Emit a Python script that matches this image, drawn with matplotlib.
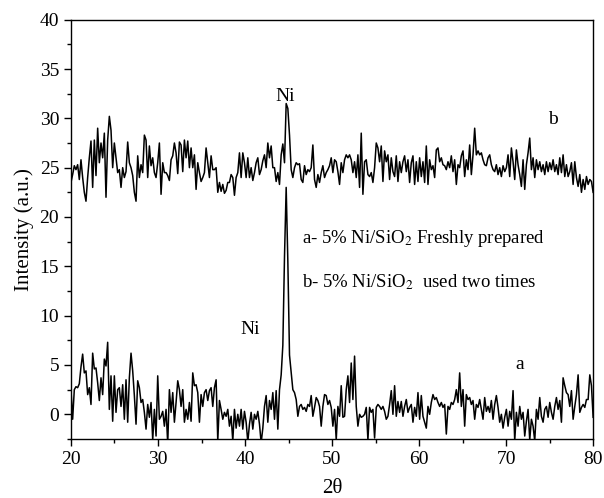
import numpy as np
import matplotlib
matplotlib.use("Agg")
import matplotlib.pyplot as plt
from matplotlib.ticker import MultipleLocator

plt.rcParams['font.family'] = ['Liberation Serif', 'DejaVu Serif']
plt.rcParams['mathtext.fontset'] = 'stix'

# scan of 2-theta, 314 uniform steps between 20 and 80 deg
two_theta = np.linspace(20, 80, 314)

# b - catalyst used two times
b_left = [
    23.5, 24.3, 25.2, 24.8, 25.3, 23.8, 25.8, 24.0, 22.5, 21.6,
    24.0, 26.0, 27.7, 23.0, 27.8, 24.2, 29.0, 25.5, 27.5, 26.0,
    28.5, 22.0, 27.8, 30.2, 28.8, 25.0, 27.5, 26.0, 24.5, 24.8,
    23.0, 25.0, 24.0, 24.6, 27.6, 25.5, 25.0, 24.2, 22.5, 21.6,
    26.2, 24.0, 25.3, 24.5, 28.3, 27.8, 24.0, 27.2, 25.2, 26.0,
    24.5, 24.0, 25.5, 27.5, 22.3, 25.5, 24.5, 24.5, 24.2, 23.7,
    25.8, 26.2, 27.5, 26.5, 24.4, 27.6, 27.3, 24.6, 27.8, 26.0,
    27.7, 25.0, 27.0, 25.0, 26.3, 22.8, 25.5, 24.5, 23.6, 24.0,
    24.5, 27.0, 25.5, 24.0, 26.2, 24.8, 24.8, 25.0, 22.5, 23.5,
    22.6, 23.3, 22.4, 22.7, 23.5, 23.5, 24.3, 24.0, 22.2, 24.0,
    24.5, 26.5, 24.0, 26.5, 25.5, 24.0, 26.0, 24.0, 25.0, 23.7,
    24.5, 25.5, 26.0, 24.3, 24.8, 25.7, 26.3, 25.0, 27.5, 26.0,
    27.2, 25.0, 25.0, 23.6, 24.5, 23.3, 26.3, 27.4, 25.5, 31.5,
    31.0, 28.3, 24.8, 24.0, 25.0, 25.5, 25.3, 25.4, 23.8, 23.5,
    25.2, 24.3, 24.8, 24.6, 25.0, 27.3, 23.8, 23.0, 24.3, 23.5,
    24.5, 25.2, 24.0, 24.5, 24.8, 25.2, 26.0, 24.5, 25.8,
]
b_right = [
    25.6, 24.6, 23.3, 25.5, 24.5, 25.8, 26.3, 26.0, 26.3, 25.8,
    24.5, 25.6, 24.0, 26.3, 23.0, 28.5, 22.3, 25.6, 25.8, 24.3,
    24.1, 24.5, 23.5, 25.0, 27.5, 27.0, 25.6, 27.2, 23.6, 26.7,
    25.6, 26.3, 23.8, 26.0, 24.6, 24.1, 26.2, 23.6, 25.6, 24.5,
    25.6, 26.2, 24.6, 25.8, 23.5, 25.5, 26.2, 23.3, 25.6, 23.6,
    26.0, 24.1, 25.6, 23.5, 27.2, 23.3, 25.8, 24.8, 25.2, 24.0,
    26.8, 27.0, 25.6, 26.0, 25.3, 25.2, 24.8, 25.6, 25.0, 26.2,
    24.6, 25.8, 23.3, 25.3, 25.0, 26.2, 26.7, 24.1, 25.8, 24.8,
    27.3, 24.3, 26.3, 29.0, 26.3, 26.7, 26.3, 26.5, 25.8, 25.3,
    25.2, 26.0, 26.3, 25.3, 24.8, 24.6, 25.3, 24.3, 25.0, 24.1,
    25.2, 24.6, 25.0, 26.3, 24.1, 27.0, 25.6, 23.8, 26.8, 25.3,
    24.3, 23.1, 25.8, 22.8, 25.3, 26.5, 28.0, 24.8, 26.0, 24.0,
    25.8, 24.8, 25.6, 24.6, 25.3, 24.3, 25.6, 24.6, 25.5, 24.8,
    25.8, 24.6, 25.3, 24.3, 26.0, 24.5, 26.3, 24.1, 25.3, 24.1,
    24.6, 25.5, 23.3, 25.6, 24.0, 23.1, 24.3, 22.5, 23.8, 22.8,
    24.1, 23.3, 23.8, 23.6, 22.5,
]

# a - freshly prepared
a_left = [
    2.5, -0.5, 2.5, 2.8, 2.7, 3.1, 4.8, 6.1, 4.2, 4.4,
    2.0, 2.7, 1.0, 6.2, 4.6, 4.7, 3.2, 1.4, 3.7, 2.0,
    5.6, 4.9, 7.3, 0.5, 3.9, -0.7, 3.9, 0.2, 2.5, 2.7,
    0.8, 3.0, -0.5, 3.5, -0.8, 3.7, 6.2, 4.4, 1.9, -1.0,
    3.4, 2.7, 1.2, 1.5, 0.2, -1.5, 1.0, -0.3, 1.2, -2.6,
    0.5, -2.2, 3.9, -0.5, -0.2, 0.3, -1.2, 0.5, -3.0, 2.5,
    0.2, 2.2, -0.8, 1.2, 3.4, 2.5, 0.8, 2.5, -0.8, 0.5,
    -0.5, 1.2, -0.7, 4.2, 2.9, 3.0, 2.2, -0.8, 2.0, 0.8,
    2.2, 2.5, 1.4, 2.4, 2.7, 0.8, 2.7, 3.5, -2.7, 1.4,
    0.5, -0.5, 0.2, -0.2, 0.5, -1.2, -0.2, -2.7, 0.5, -1.4,
    0.0, -1.2, 0.5, -1.5, 0.3, -0.8, -2.8, -1.0, 0.2, -1.5,
    0.0, -0.5, 0.3, -1.0, -2.9, -1.4, 0.8, 1.9, -0.8, 1.4,
    0.5, 2.2, -0.5, 2.4, -1.5, 2.5, 4.0, 7.0, 16.0, 23.0,
    15.5, 6.0, 4.2, 2.5, 2.2, 1.5, -0.2, 0.8, 1.0, 0.5,
    0.7, 0.3, 1.0, 0.8, 1.9, -0.2, 0.7, 1.7, 1.4, 0.8,
    -1.2, 0.8, 2.0, 1.9, 1.0, 1.4, 0.7, -1.2, 0.5,
]
a_right = [
    -2.6, 0.8, -0.2, 2.9, -0.3, -0.2, 2.5, 3.9, 1.2, 5.2,
    1.5, 5.9, 0.8, -1.2, 0.0, -0.3, -0.2, 0.0, 0.7, -2.6,
    0.7, 0.2, 0.5, -2.4, 0.7, 1.0, 0.8, 0.5, 0.8, 0.3,
    -0.5, -0.2, 1.0, 2.4, 0.0, 2.9, -0.2, 1.3, 0.2, 1.3,
    -0.2, 0.8, 1.5, 0.2, 0.7, 1.0, -0.8, 0.7, -0.2, 2.2,
    -0.5, 1.9, -0.2, -0.8, -1.4, 0.8, 0.0, 1.2, 2.0, 1.5,
    1.7, 1.2, 0.8, 1.2, 0.7, 1.0, -2.0, 0.8, 0.5, 1.2,
    1.0, 1.5, 2.5, 1.2, 4.2, 0.8, 2.5, -1.2, 2.0, 1.5,
    1.7, 1.0, 1.4, -0.5, 1.0, 0.7, 1.5, 0.5, -0.5, 1.7,
    0.3, 0.8, 0.2, 1.4, -0.5, 1.0, 1.9, 0.7, -0.8, 0.0,
    -1.4, -0.3, 0.5, -1.2, 0.3, -0.5, 2.4, -2.7, 0.2, -1.2,
    0.8, -0.5, 0.2, -2.2, -0.7, 0.5, -2.6, -0.5, -1.2, -2.7,
    0.5, -0.5, 1.7, -0.2, -0.8, 0.5, 0.8, -0.3, 1.2, 0.2,
    -0.5, 0.8, 1.7, 0.5, 1.4, -0.8, 3.7, 2.9, 2.2, 2.0,
    0.8, 2.4, -0.5, 0.8, 2.0, 4.0, 0.2, 0.7, 1.0, 0.7,
    1.5, 1.5, 4.0, 2.9, -0.3,
]

series_b = np.array(b_left + b_right)
series_a = np.array(a_left + a_right)

fig = plt.figure(figsize=(6.04, 4.98), dpi=100)
ax = fig.add_axes([0.1175, 0.1185, 0.8645, 0.842])

ax.plot(two_theta, series_b, color='black', lw=1.1)
ax.plot(two_theta, series_a, color='black', lw=1.1)

ax.set_xlim(20, 80)
ax.set_ylim(-2.5, 40)
ax.xaxis.set_major_locator(MultipleLocator(10))
ax.xaxis.set_minor_locator(MultipleLocator(5))
ax.yaxis.set_major_locator(MultipleLocator(5))
ax.yaxis.set_minor_locator(MultipleLocator(2.5))
ax.tick_params(which='major', direction='out', length=5, width=1, labelsize=14)
ax.tick_params(which='minor', direction='out', length=3, width=1)
for s in ax.spines.values():
    s.set_linewidth(1)

ax.set_xlabel('2θ', fontsize=15, labelpad=8)
ax.set_ylabel('Intensity (a.u.)', fontsize=15, labelpad=4)

ax.text(44.6, 32.2, 'Ni', fontsize=14, ha='center', va='center')
ax.text(40.6, 8.6, 'Ni', fontsize=14, ha='center', va='center')
ax.text(75.4, 29.9, 'b', fontsize=14, ha='center', va='center')
ax.text(71.6, 5.1, 'a', fontsize=14, ha='center', va='center')
ax.text(46.6, 17.8, 'a- 5% Ni/SiO$_2$ Freshly prepared', fontsize=13.5, ha='left', va='center')
ax.text(46.6, 13.4, 'b- 5% Ni/SiO$_2$  used two times', fontsize=13.5, ha='left', va='center')

fig.savefig('out.png', dpi=100)
